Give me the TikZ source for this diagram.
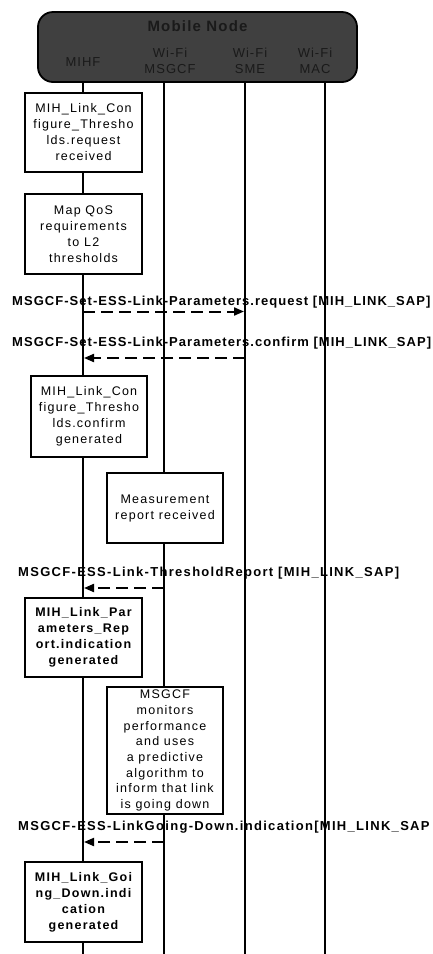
\documentclass[tikz,border=0pt]{standalone}
\usepackage{fontspec}
\setmainfont{Liberation Sans}
\newfontfamily\boxfont[LetterSpace=10]{Liberation Sans}
\newfontfamily\msgfont[LetterSpace=8]{Liberation Sans}
\newfontfamily\msgwidefont[LetterSpace=10]{Liberation Sans}
\newfontfamily\headfont[LetterSpace=8]{Liberation Sans}
\usetikzlibrary{arrows.meta}
\definecolor{hdrgray}{HTML}{404040}
\definecolor{hdrtext}{HTML}{1A1A1A}

\begin{document}
\begin{tikzpicture}[x=1pt,y=-1pt,
  lifeline/.style={line width=1.2pt},
  header/.style={draw=black, line width=1.8pt, fill=hdrgray, rounded corners=15pt,
    minimum width=319pt, minimum height=70pt, inner sep=0pt},
  hdrtitle/.style={text=hdrtext, inner sep=0pt, font=\headfont\bfseries\fontsize{15}{18}\selectfont},
  hdrlabel/.style={text=hdrtext, inner sep=0pt, align=center, font=\headfont\fontsize{13}{16}\selectfont},
  actbox/.style={draw, line width=1.1pt, fill=white, minimum width=116pt, inner sep=0pt,
    align=center, font=\boxfont\fontsize{12.5}{16}\selectfont},
  actbold/.style={actbox, font=\boxfont\bfseries\fontsize{12.5}{16}\selectfont},
  msglabel/.style={anchor=west, inner sep=0pt, font=\msgfont\bfseries\fontsize{13}{15}\selectfont},
  msgwide/.style={msglabel, font=\msgwidefont\bfseries\fontsize{13}{15}\selectfont},
  msg/.style={line width=2pt, dash pattern=on 12pt off 6pt, -{Triangle[length=10pt,width=8pt]}, shorten >=1pt}
]
\useasboundingbox (0,0) rectangle (433,954);

% header of the mobile node
\node[header] (mn) at (197.5,47) {};
\node[hdrtitle] (mntitle) at (197.5,26.5) {Mobile Node};
\node[hdrlabel] (hmihf) at (83,62) {MIHF};
\node[hdrlabel] (hmsgcf) at (170,61) {Wi-Fi\\MSGCF};
\node[hdrlabel] (hsme) at (250,61) {Wi-Fi\\SME};
\node[hdrlabel] (hmac) at (315,61) {Wi-Fi\\MAC};

% lifelines
\coordinate (lmihf) at (83,954);
\coordinate (lmsgcf) at (164,954);
\coordinate (lsme) at (245,954);
\coordinate (lmac) at (325,954);
\draw[lifeline] (mn.south -| lmihf) -- (lmihf);
\draw[lifeline] (mn.south -| lmsgcf) -- (lmsgcf);
\draw[lifeline] (mn.south -| lsme) -- (lsme);
\draw[lifeline] (mn.south -| lmac) -- (lmac);

% activity boxes
\node[actbox, minimum height=79pt, minimum width=117pt] (b1) at (83.5,132.5)
  {MIH\_Link\_Con\\figure\_Thresho\\lds.request\\received};
\node[actbox, minimum height=80pt, minimum width=117pt] (b2) at (83.5,234)
  {Map QoS\\requirements\\to L2\\thresholds};
\node[actbox, minimum height=81pt] (b3) at (89,416.5)
  {MIH\_Link\_Con\\figure\_Thresho\\lds.confirm\\generated};
\node[actbox, minimum height=70pt] (b4) at (165,508)
  {Measurement\\report received};
\node[actbold, minimum height=79pt, minimum width=117pt] (b5) at (83.5,637.5)
  {MIH\_Link\_Par\\ameters\_Rep\\ort.indication\\generated};
\node[actbox, minimum height=127pt, font=\boxfont\fontsize{12.5}{15.7}\selectfont] (b6) at (165,750.5)
  {MSGCF\\monitors\\performance\\and uses\\a predictive\\algorithm to\\inform that link\\is going down};
\node[actbold, minimum height=80pt, minimum width=117pt] (b7) at (83.5,902)
  {MIH\_Link\_Goi\\ng\_Down.indi\\cation\\generated};

% messages
\node[msglabel] (t1) at (12,302) {MSGCF-Set-ESS-Link-Parameters.request [MIH\_LINK\_SAP]};
\coordinate (m1a) at (83,311.5);
\coordinate (m1b) at (245,311.5);
\draw[msg] (m1a) -- (m1b);

\node[msglabel] (t2) at (12,343) {MSGCF-Set-ESS-Link-Parameters.confirm [MIH\_LINK\_SAP]};
\coordinate (m2a) at (245,358);
\coordinate (m2b) at (83,358);
\draw[msg] (m2a) -- (m2b);

\node[msgwide] (t3) at (18,573) {MSGCF-ESS-Link-ThresholdReport [MIH\_LINK\_SAP]};
\coordinate (m3a) at (164,588);
\coordinate (m3b) at (83,588);
\draw[msg] (m3a) -- (m3b);

\node[msgwide] (t4) at (18,827) {MSGCF-ESS-LinkGoing-Down.indication[MIH\_LINK\_SAP};
\coordinate (m4a) at (164,842);
\coordinate (m4b) at (83,842);
\draw[msg] (m4a) -- (m4b);
\end{tikzpicture}
\end{document}
